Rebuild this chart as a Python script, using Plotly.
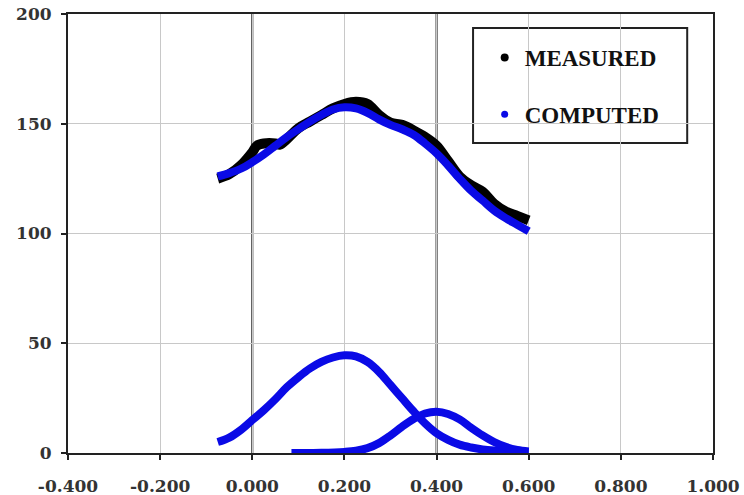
import plotly.graph_objects as go

# ---- data ----
meas_x = [-0.075, -0.05, -0.025, 0.0, 0.01, 0.025, 0.05, 0.06, 0.075, 0.1, 0.125, 0.15, 0.175,
          0.2, 0.225, 0.25, 0.275, 0.3, 0.325, 0.35, 0.375, 0.4, 0.425, 0.45, 0.475, 0.5,
          0.525, 0.55, 0.575, 0.6]
meas_y = [125, 127, 131, 137, 140, 141, 141, 140.5, 143, 148, 151, 154, 157,
          159, 160, 159, 154, 150.5, 149.5, 147, 144, 140, 133, 126, 122, 119,
          113.5, 110, 108, 106]

comp_x = [-0.075, -0.05, -0.025, 0.0, 0.025, 0.05, 0.075, 0.1, 0.125, 0.15, 0.175, 0.2,
          0.225, 0.25, 0.275, 0.3, 0.325, 0.35, 0.375, 0.4, 0.425, 0.45, 0.475, 0.5,
          0.525, 0.55, 0.575, 0.6]
comp_y = [126, 127.5, 129.5, 132.5, 136, 140, 144, 147.5, 151, 154, 156.5, 157.5,
          157, 155, 152, 149.5, 147.5, 145, 141, 136.5, 131, 125, 119.5, 115,
          110.5, 107, 104, 101]

peak1_x = [-0.075, -0.05, -0.025, 0.0, 0.025, 0.05, 0.075, 0.1, 0.125, 0.15, 0.175, 0.2,
           0.225, 0.25, 0.275, 0.3, 0.325, 0.35, 0.375, 0.4, 0.425, 0.45, 0.475, 0.5,
           0.525, 0.55, 0.575, 0.6]
peak1_y = [5, 7, 10.5, 15, 19.5, 24.5, 30, 34.5, 38.5, 41.5, 43.5, 44.5,
           44, 41.5, 37, 31, 25, 19, 13.5, 9, 6, 3.8, 2.5, 1.6,
           1.1, 0.8, 0.6, 0.5]

peak2_x = [0.085, 0.1, 0.15, 0.2, 0.225, 0.25, 0.275, 0.3, 0.325, 0.35, 0.375, 0.4,
           0.425, 0.45, 0.475, 0.5, 0.525, 0.55, 0.575, 0.6]
peak2_y = [0, 0, 0.1, 0.5, 1, 2.2, 4.5, 8, 12, 15.5, 18, 18.8,
           17.8, 15.3, 11.5, 8, 5, 2.8, 1.4, 0.7]

x_ticks = [-0.4, -0.2, 0.0, 0.2, 0.4, 0.6, 0.8, 1.0]
x_tick_labels = ["-0.400", "-0.200", "0.000", "0.200", "0.400", "0.600", "0.800", "1.000"]
y_ticks = [0, 50, 100, 150, 200]
dark_lines_x = [0.0, 0.4]

BLUE = "#0a0ae6"
BLACK = "#000000"

fig = go.Figure()

fig.add_trace(go.Scatter(x=meas_x, y=meas_y, mode="lines", line=dict(color=BLACK, width=10, shape="spline"),
                         showlegend=False, hoverinfo="skip"))
for xs, ys in [(comp_x, comp_y), (peak1_x, peak1_y), (peak2_x, peak2_y)]:
    fig.add_trace(go.Scatter(x=xs, y=ys, mode="lines", line=dict(color=BLUE, width=8, shape="spline"),
                             showlegend=False, hoverinfo="skip"))

# legend entries (dot markers)
fig.add_trace(go.Scatter(x=[None], y=[None], mode="markers", name="MEASURED",
                         marker=dict(color=BLACK, size=8), legendgroup="a"))
fig.add_trace(go.Scatter(x=[None], y=[None], mode="markers", name="COMPUTED",
                         marker=dict(color=BLUE, size=7), legendgroup="b"))

for xv in dark_lines_x:
    fig.add_shape(type="line", x0=xv, x1=xv, y0=0, y1=1, xref="x", yref="paper",
                  line=dict(color="#222222", width=2), layer="between")

# legend frame
fig.add_shape(type="rect", xref="paper", yref="paper", x0=0.628, x1=0.96, y0=0.706, y1=0.968,
              line=dict(color="#222222", width=2), fillcolor="white", layer="between")

tickfont = dict(family="DejaVu Serif", size=17, color="#333333", weight="bold")

fig.update_layout(
    width=744, height=495,
    margin=dict(l=68, r=31, t=14, b=42),
    paper_bgcolor="white", plot_bgcolor="white",
    showlegend=True,
    legend=dict(x=0.646, y=0.95, xanchor="left", yanchor="top",
                bgcolor="rgba(0,0,0,0)", borderwidth=0,
                font=dict(family="Liberation Serif", size=23, color="#111111", weight="bold"),
                itemwidth=30, tracegroupgap=24, traceorder="grouped"),
    xaxis=dict(range=[-0.4, 1.0], tickvals=x_ticks, ticktext=x_tick_labels,
               showgrid=True, gridcolor="#c8c8c8", gridwidth=1, zeroline=False,
               showline=True, linecolor="#222222", linewidth=2, mirror=True,
               ticks="outside", ticklen=5, tickwidth=1.5, tickcolor="#222222",
               tickfont=tickfont, ticklabelstandoff=12, automargin=False),
    yaxis=dict(range=[0, 200], tickvals=y_ticks,
               showgrid=True, gridcolor="#c8c8c8", gridwidth=1, zeroline=False,
               showline=True, linecolor="#222222", linewidth=2, mirror=True,
               ticks="outside", ticklen=5, tickwidth=1.5, tickcolor="#222222",
               tickfont=tickfont, ticklabelstandoff=6, automargin=False),
)

fig.write_html("out.html", post_script="document.body.style.margin='0';",
               config={"displayModeBar": False})
